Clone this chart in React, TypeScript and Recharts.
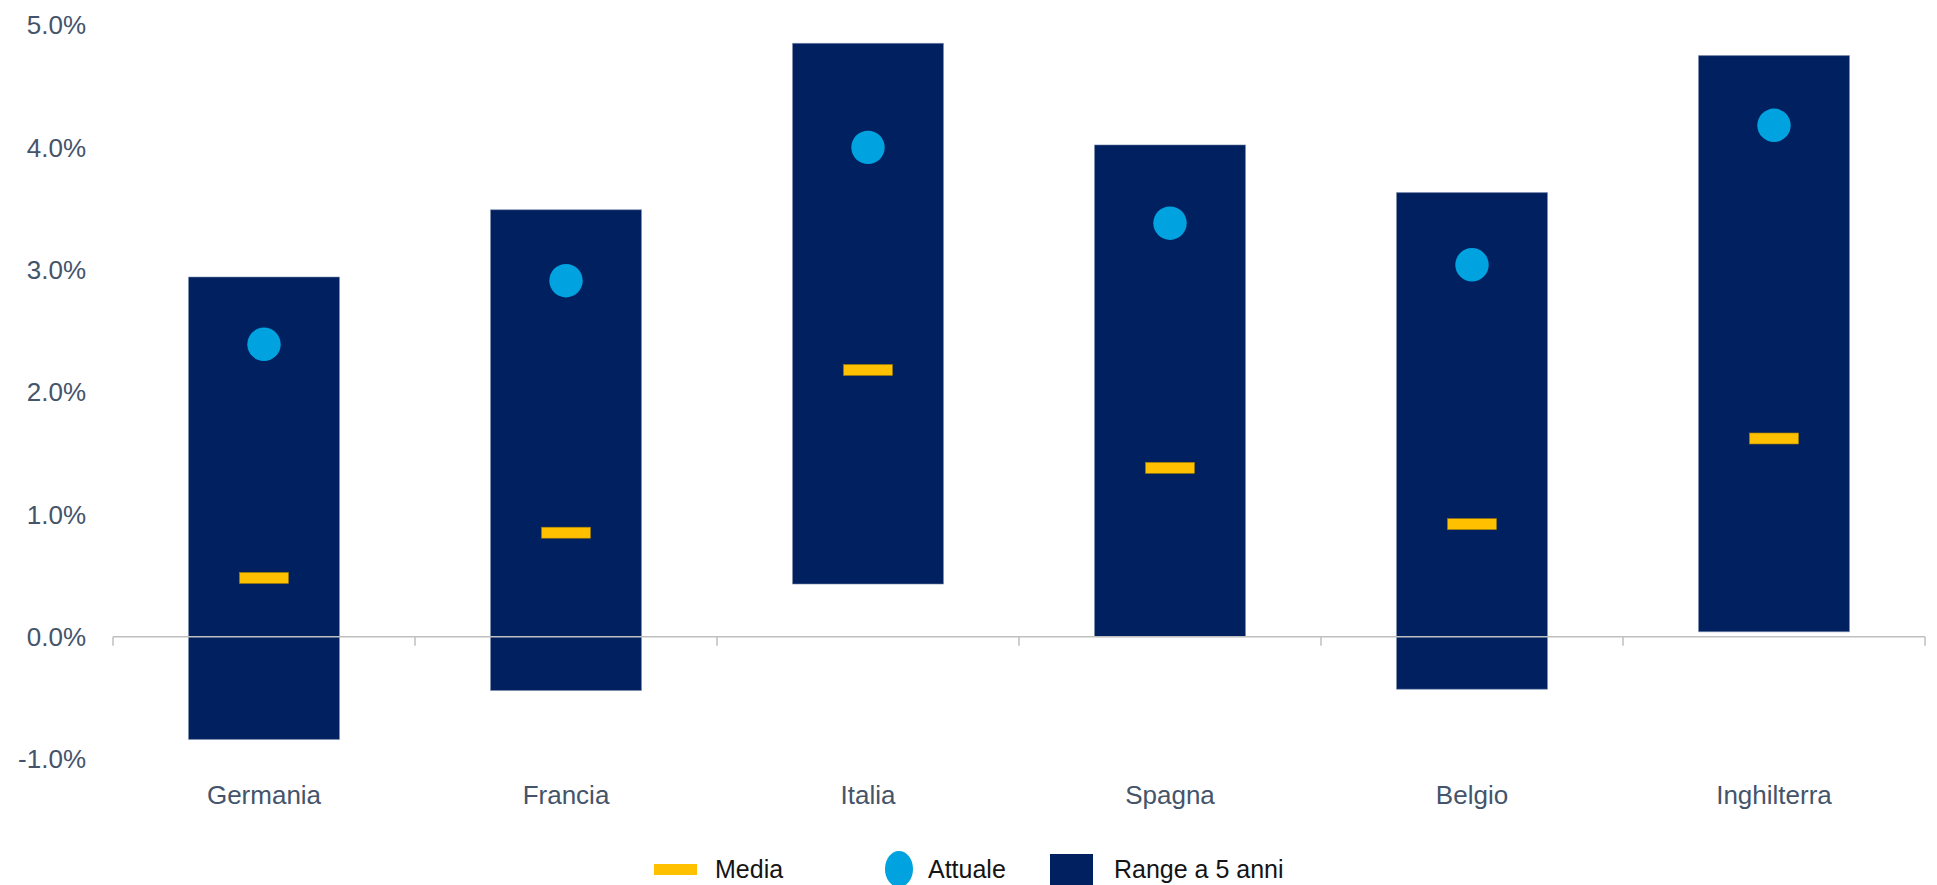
import React from 'react';
import { ComposedChart, Bar, Line, XAxis, YAxis, ReferenceLine, Legend } from 'recharts';

const categories = ['Germania', 'Francia', 'Italia', 'Spagna', 'Belgio', 'Inghilterra'];
const rangeLow = [-0.84, -0.44, 0.43, 0.0, -0.43, 0.04];
const rangeHigh = [2.94, 3.49, 4.85, 4.02, 3.63, 4.75];
const attuale = [2.39, 2.91, 4.0, 3.38, 3.04, 4.18];
const media = [0.48, 0.85, 2.18, 1.38, 0.92, 1.62];
const yTicks = [-1, 0, 1, 2, 3, 4, 5];
const legendOrder = ['media', 'attuale', 'range'];

const data = categories.map((name, i) => ({
  name,
  range: [rangeLow[i], rangeHigh[i]],
  attuale: attuale[i],
  media: media[i],
}));

const FONT = '"Liberation Sans", Arial, sans-serif';
const NAVY = '#002060';
const YELLOW = '#FFC000';
const CYAN = '#00A3E0';
const AXIS_GREY = '#BFBFBF';
const LABEL = '#44546A';

const MediaMark = (props: any) => {
  const { cx, cy, index } = props;
  if (cx == null || cy == null) return <g key={`m-${index}`} />;
  return (
    <rect key={`m-${index}`} x={cx - 24.5} y={cy - 5.5} width={49} height={11} fill={YELLOW} stroke="#A07C00" strokeWidth={0.6} />
  );
};

const AttualeDot = (props: any) => {
  const { cx, cy, index } = props;
  if (cx == null || cy == null) return <g key={`a-${index}`} />;
  return <circle key={`a-${index}`} cx={cx} cy={cy} r={16.7} fill={CYAN} />;
};

const ZeroAxis = (props: any) => {
  const { x1, y1, x2, y2 } = props;
  const n = categories.length;
  const xs = Array.from({ length: n + 1 }, (_, i) => Number(x1) + ((Number(x2) - Number(x1)) * i) / n);
  return (
    <g>
      <line x1={x1} y1={y1} x2={x2} y2={y2} stroke={AXIS_GREY} strokeWidth={1.5} />
      {xs.map((x, i) => (
        <line key={i} x1={x} x2={x} y1={Number(y1)} y2={Number(y1) + 9} stroke={AXIS_GREY} strokeWidth={1.5} />
      ))}
    </g>
  );
};

const iconFor = (key: string, color: string) => {
  if (key === 'media') {
    return (
      <svg width={43} height={11} style={{ marginRight: 18, flex: 'none' }}>
        <rect x={0} y={0} width={43} height={11} fill={color} />
      </svg>
    );
  }
  if (key === 'attuale') {
    return (
      <svg width={28} height={36} style={{ marginRight: 15, flex: 'none' }}>
        <ellipse cx={14} cy={18} rx={14} ry={18} fill={color} />
      </svg>
    );
  }
  return (
    <svg width={43} height={31} style={{ marginRight: 21, flex: 'none' }}>
      <rect x={0} y={0} width={43} height={31} fill={color} />
    </svg>
  );
};

const textWidths: Record<string, number> = { media: 76, attuale: 88, range: 173 };
const gapsAfter: Record<string, number> = { media: 94, attuale: 34, range: 0 };

const renderLegend = (props: any) => {
  const payload = (props.payload || []) as any[];
  const items = legendOrder
    .map((k) => payload.find((p) => p.dataKey === k))
    .filter(Boolean);
  return (
    <div
      style={{
        display: 'flex',
        alignItems: 'center',
        height: 34,
        paddingLeft: 654,
        paddingTop: 2,
        fontFamily: FONT,
        fontSize: 25,
        color: '#141414',
        boxSizing: 'border-box',
      }}
    >
      {items.map((it: any) => {
        const k = it.dataKey as string;
        const color = k === 'media' ? YELLOW : k === 'attuale' ? CYAN : NAVY;
        return (
          <div key={k} style={{ display: 'flex', alignItems: 'center', marginRight: gapsAfter[k] }}>
            {iconFor(k, color)}
            <span style={{ whiteSpace: 'nowrap', width: textWidths[k], display: 'inline-block' }}>{it.value}</span>
          </div>
        );
      })}
    </div>
  );
};

export default function App() {
  return (
    <div style={{ position: 'absolute', left: 0, top: 0, width: 1937, height: 885, background: '#fff' }}>
      <ComposedChart
        width={1937}
        height={885}
        data={data}
        margin={{ top: 25, right: 12, bottom: 0, left: 0 }}
        barCategoryGap="25%"
        style={{ fontFamily: FONT }}
      >
        <XAxis
          dataKey="name"
          interval={0}
          axisLine={false}
          tickLine={false}
          tickSize={0}
          tickMargin={27}
          height={92}
          tick={{ fill: LABEL, fontSize: 26, fontFamily: FONT }}
        />
        <YAxis
          domain={[-1, 5]}
          ticks={yTicks}
          interval={0}
          allowDataOverflow
          axisLine={false}
          tickLine={false}
          tickSize={0}
          tickMargin={27}
          width={113}
          tickFormatter={(v: number) => `${v.toFixed(1)}%`}
          tick={{ fill: LABEL, fontSize: 26, fontFamily: FONT }}
        />
        <Bar
          dataKey="range"
          name="Range a 5 anni"
          fill={NAVY}
          stroke="#7F90AE"
          strokeWidth={1}
          strokeOpacity={0.6}
          isAnimationActive={false}
        />
        <ReferenceLine y={0} shape={ZeroAxis} {...({ zIndex: 350 } as any)} />
        <Line
          dataKey="media"
          name="Media"
          stroke="none"
          dot={MediaMark}
          activeDot={false}
          isAnimationActive={false}
        />
        <Line
          dataKey="attuale"
          name="Attuale"
          stroke="none"
          dot={AttualeDot}
          activeDot={false}
          isAnimationActive={false}
        />
        <Legend
          verticalAlign="bottom"
          content={renderLegend}
          wrapperStyle={{ left: 0, width: 1937, height: 34, bottom: 0 }}
        />
      </ComposedChart>
    </div>
  );
}
